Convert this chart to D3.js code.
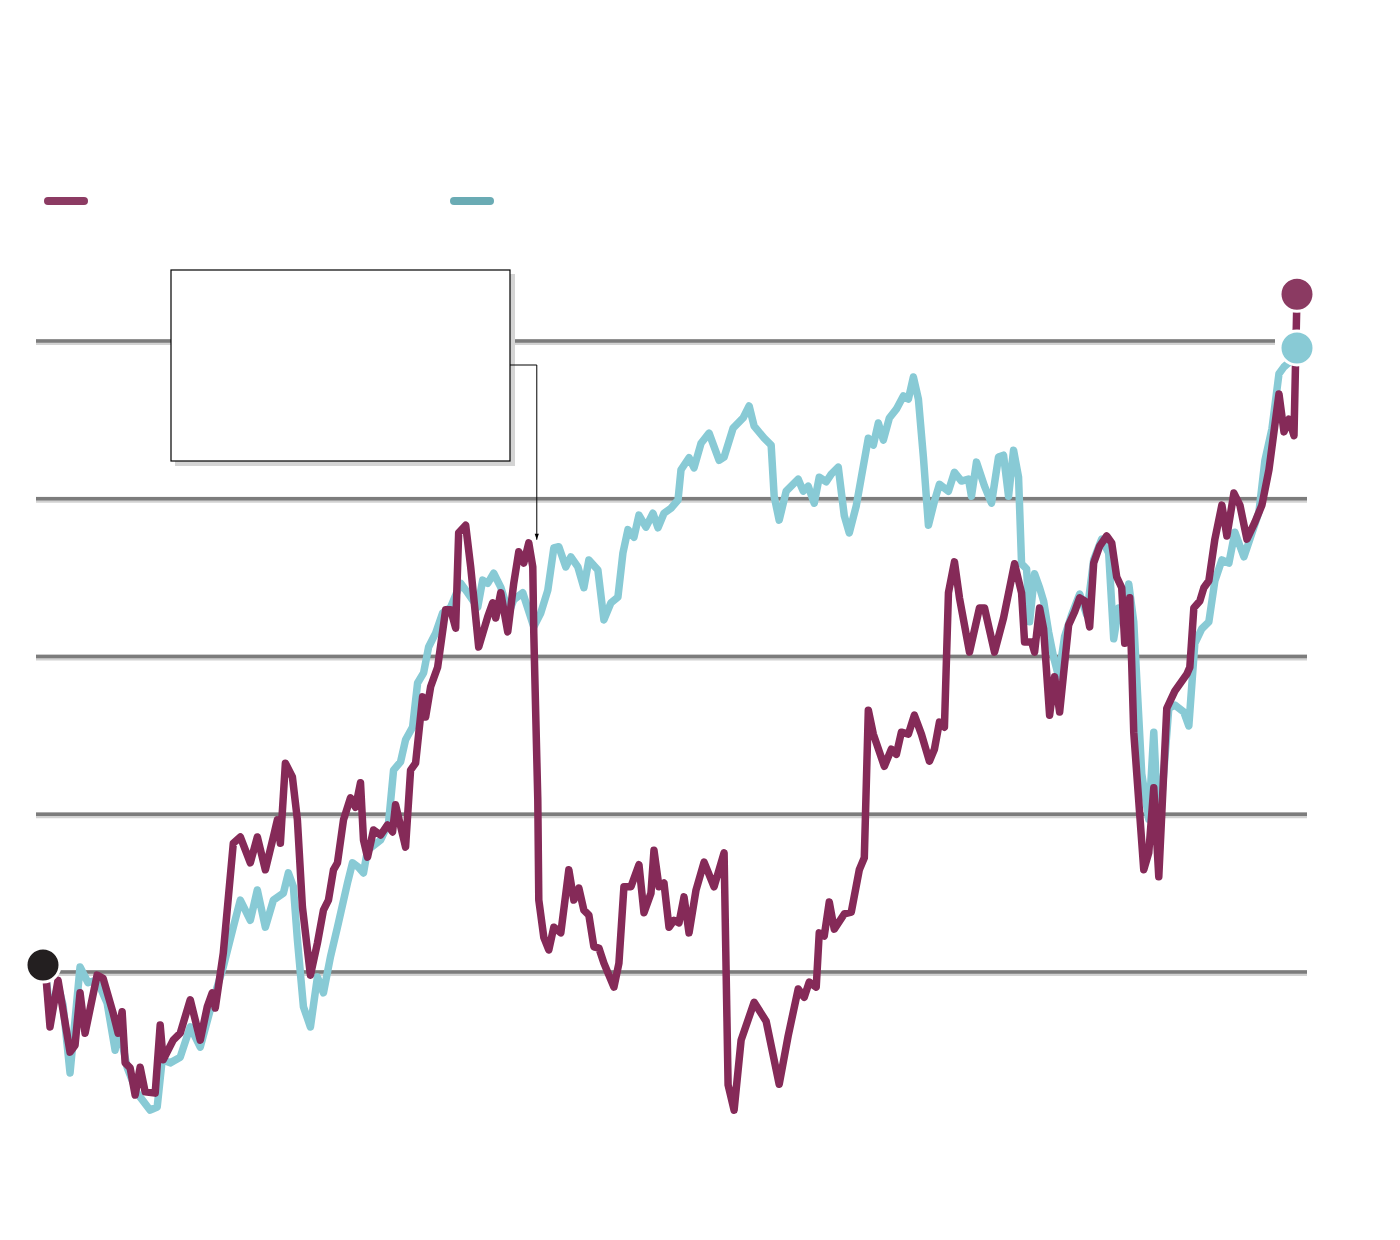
<!DOCTYPE html>
<head>
  <meta charset="utf-8">
  <title>Index comparison</title>
  <script src="https://d3js.org/d3.v7.min.js"></script>
</head>
<style>
body {
    margin: 0;
    background: #fff;
    font-family: "Liberation Sans", Arial, sans-serif;
}
</style>
<body>
<svg id="chart"></svg>
<script>
    // gridline values (index, start = 100)
    var gridValues = [100, 125, 150, 175, 200];

    // purple series: time (units) and index value
    var purpleT = [0, 1, 2.6, 5, 6, 7, 8, 10.4, 11.6, 13.6, 14.6, 15.4, 16, 17, 18, 19, 20, 22, 23, 23.6,
        25.6, 27, 29, 31, 32.4, 33.4, 34, 35.6, 37.6, 39, 41, 42.4, 44, 45.6, 46.4, 47, 48, 49.4, 50.4, 51.4,
        53, 54.4, 55.6, 56.6, 57.6, 58.4, 59.6, 61, 62, 63, 63.6, 64.4, 65.6, 67, 68.4, 69.4, 70, 72, 73, 74,
        75.4, 76, 77, 78.4, 80, 81, 82, 82.6, 84, 85, 86.6, 88.4, 89.4, 90, 91, 92.4, 93.6, 94.6, 95.6, 96.6,
        97.4, 97.6, 98.4, 98.6, 99.6, 100.6, 101.6, 103, 104.6, 105.6, 106.6, 107.6, 108.6, 109.6, 110.6, 111.6, 113.6, 114.6,
        115.6, 117, 118.6, 119.6, 121, 121.6, 122.6, 123.6, 124.6, 125.6, 126.6, 127.6, 128.6, 130, 131.6, 133.6, 135.6, 136.4,
        137.6, 139, 141.6, 144, 146.6, 148.4, 150.4, 151.6, 152.6, 154, 154.6, 155.6, 156.6, 157.6, 159.6, 161, 162.6, 163.6,
        164.4, 165.4, 167.6, 169, 170, 171, 172.4, 173.6, 175, 176.6, 177.6, 178.6, 179.6, 180.4, 181.6, 182.6, 184.6, 186.6,
        187.6, 189.6, 191.4, 193.6, 195, 195.6, 197, 197.6, 198.6, 199.4, 200.6, 201.6, 202.6, 204.4, 205.6, 206.6, 207.6, 208.6,
        209.4, 210.6, 212, 213, 214, 215, 215.6, 216.6, 217.4, 219.4, 220.4, 221.4, 222.4, 224, 225.6, 228, 228.6, 229.4,
        230.6, 231.4, 232.4, 233.6, 235, 236, 237.4, 238.6, 240, 241.6, 243, 244.4, 246.4, 247.4, 248.4, 249.4, 250];
    var purpleV = [101.1, 91.3, 98.7, 87.3, 88.4, 96.7, 90.3, 99.5, 99.0, 93.5, 90.3, 93.7, 85.6, 84.8, 80.5, 84.9, 81.0, 80.8, 91.6, 86.1,
        89.2, 90.3, 95.6, 89.2, 94.5, 96.7, 94.3, 103.0, 120.4, 121.4, 117.3, 121.4, 116.2, 121.4, 124.1, 120.4, 133.1, 130.9, 124.1, 110.3,
        99.5, 104.6, 109.8, 111.4, 116.2, 117.3, 124.1, 127.6, 126.1, 130.0, 120.9, 118.2, 122.5, 121.7, 123.3, 122.2, 126.5, 119.8, 132.0, 133.1,
        143.6, 140.4, 145.2, 148.3, 157.4, 157.4, 154.5, 169.6, 170.8, 164.2, 151.5, 156.3, 158.5, 156.1, 160.1, 153.9, 161.6, 166.6, 164.8, 168.0,
        164.2, 153.7, 127.3, 111.4, 105.5, 103.5, 107.1, 106.2, 116.2, 111.4, 113.3, 109.8, 109.0, 104.0, 103.8, 101.4, 97.6, 101.4,
        113.5, 113.5, 117.0, 109.4, 112.5, 119.3, 113.5, 114.1, 107.1, 108.2, 107.8, 111.9, 106.2, 113.0, 117.4, 113.5, 118.9, 82.1,
        78.1, 89.2, 95.2, 92.2, 82.2, 89.9, 97.3, 96.0, 98.4, 97.6, 106.2, 105.7, 111.1, 106.8, 109.2, 109.5, 116.2, 118.1,
        141.5, 137.7, 132.6, 135.3, 134.5, 138.0, 137.7, 140.7, 137.7, 133.4, 135.3, 139.6, 138.8, 160.1, 165.0, 159.3, 150.7, 157.7,
        157.7, 150.7, 156.1, 164.7, 160.1, 152.3, 152.3, 150.7, 157.7, 154.4, 140.7, 146.8, 141.2, 155.0, 157.1, 159.3, 158.8, 154.7,
        164.8, 167.5, 169.1, 168.0, 162.6, 160.9, 152.1, 159.3, 138.0, 116.2, 118.9, 129.2, 115.1, 141.8, 144.5, 147.2, 148.3, 157.7,
        158.8, 160.9, 162.0, 168.6, 174.0, 169.1, 175.9, 174.0, 168.6, 171.3, 174.0, 179.6, 191.6, 185.6, 187.6, 185.0, 207.4];

    // teal series
    var tealT = [0, 1, 2.6, 3.6, 5, 7, 8.6, 10.4, 12.4, 14, 14.6, 16.4, 18.4, 21, 22.4, 23.4, 25, 27, 29, 31,
        33, 35.6, 37.6, 39, 41, 42.4, 44, 45.6, 47.6, 48.6, 49.6, 50.4, 51.6, 53, 54.4, 55.6, 57, 58.4, 60.4, 61.4,
        62.6, 63.6, 64.4, 67, 68.6, 69.6, 71, 72, 73.4, 74.4, 75.6, 76.6, 78, 79.4, 81, 83, 84.4, 86.4, 87.4, 88.4,
        89.6, 91, 92.6, 93.6, 95.4, 97.6, 99, 100.4, 101.6, 102.6, 104, 105, 106.4, 107.6, 108.6, 110.4, 111.6, 113, 114.4, 115.4,
        116.4, 117.6, 118.6, 120, 121.4, 122.4, 123.6, 125, 126.4, 127, 128.6, 129.6, 131, 132.6, 134.6, 135.6, 137.4, 139.4, 140.6, 141.6,
        143.6, 145, 145.6, 146.6, 148, 150.4, 151.4, 152.4, 153.6, 154.6, 156, 157, 158.4, 159.6, 160.6, 162, 163, 164.4, 165.4, 166.4,
        167.4, 168.6, 170, 171.4, 172.4, 173.4, 174.4, 175.4, 176.4, 177.6, 178.6, 180.4, 181.6, 183, 184.4, 185, 186, 187.6, 189, 190.4,
        191.4, 192.4, 193.4, 194.4, 195, 196, 196.6, 197.6, 198.6, 199.4, 200.4, 201.4, 202.4, 203.6, 205, 206.6, 208, 209.4, 211, 212.4,
        213.4, 214.4, 215.4, 216.4, 217.4, 219, 220.4, 221.4, 222.4, 224.4, 225.6, 227.4, 228.4, 229.6, 231, 232.4, 233.6, 235, 236.4, 237.6,
        239.4, 240.6, 242.4, 243.6, 245, 246.4, 247.4, 249, 250];
    var tealV = [101.1, 93.2, 97.9, 94.8, 84.0, 100.8, 98.3, 98.7, 95.1, 87.6, 91.9, 84.9, 80.8, 78.1, 78.6, 86.1, 85.6, 86.5, 91.3, 88.1,
        94.0, 100.8, 107.1, 111.4, 108.2, 113.0, 107.1, 111.4, 112.5, 115.7, 113.5, 105.1, 94.5, 91.3, 99.2, 96.7, 102.4, 107.1, 114.1, 117.3,
        116.6, 115.7, 119.3, 120.9, 123.6, 132.0, 133.3, 136.8, 138.8, 145.8, 147.4, 151.5, 153.7, 156.9, 157.8, 161.6, 160.1, 157.8, 162.1, 161.6,
        163.2, 161.0, 156.9, 159.0, 160.1, 154.7, 156.9, 160.5, 167.2, 167.4, 164.2, 165.8, 164.2, 160.9, 165.3, 163.7, 155.8, 158.5, 159.4, 166.4,
        170.1, 168.9, 172.4, 170.5, 172.7, 170.4, 172.7, 173.5, 174.8, 179.6, 181.5, 179.9, 183.8, 185.4, 181.1, 181.6, 186.2, 187.8, 189.7, 186.5,
        184.6, 183.5, 175.4, 171.6, 176.2, 178.1, 176.2, 177.0, 174.3, 178.4, 177.7, 178.9, 180.0, 172.3, 169.6, 173.9, 178.4, 184.6, 183.5, 187.0,
        184.3, 187.8, 189.2, 191.3, 190.8, 194.3, 190.8, 181.6, 170.8, 174.6, 177.3, 176.2, 179.2, 177.8, 178.1, 175.4, 180.8, 177.0, 174.3, 181.6,
        181.9, 175.4, 182.7, 178.4, 164.7, 163.9, 155.5, 163.1, 160.9, 158.8, 153.9, 149.9, 146.8, 153.2, 156.6, 159.9, 156.6, 165.3, 168.6, 166.4,
        152.8, 157.7, 155.9, 161.5, 155.5, 131.4, 124.2, 138.0, 121.6, 141.8, 142.3, 141.2, 139.0, 152.1, 154.4, 155.5, 162.0, 165.3, 164.8, 169.7,
        165.8, 168.6, 172.9, 181.1, 186.1, 194.8, 195.9, 197.0, 198.9];

    // annotation target (purple peak before the drop)
    var noteT = 98.2;
    var noteV = 168.5;

    var width = 1400;
    var height = 1240;
    var purple = '#852a58';
    var teal = '#88cad5';

    var svg = d3.select('#chart')
        .attr('width', width)
        .attr('height', height);

    var x = d3.scaleLinear().domain([0, 250]).range([45, 1297]);
    var y = d3.scaleLinear().domain([100, 200]).range([972, 341]);

    // gridlines; the top one stops short of the end markers
    var grid = svg.append('g');
    gridValues.forEach(function (v, i) {
        var x2 = i === gridValues.length - 1 ? 1275 : 1307;
        grid.append('line')
            .attr('x1', 36).attr('x2', x2)
            .attr('y1', y(v) + 1).attr('y2', y(v) + 1)
            .style('stroke', '#d2d2d2').style('stroke-width', 6);
        grid.append('line')
            .attr('x1', 36).attr('x2', x2)
            .attr('y1', y(v)).attr('y2', y(v))
            .style('stroke', '#7c7c7c').style('stroke-width', 3.5);
    });

    // legend swatches
    var legend = svg.append('g');
    [[48, '#8c3b63'], [454, '#6aabb4']].forEach(function (d) {
        legend.append('line')
            .attr('x1', d[0]).attr('x2', d[0] + 36)
            .attr('y1', 201).attr('y2', 201)
            .style('stroke', d[1]).style('stroke-width', 8)
            .style('stroke-linecap', 'round');
    });

    var line = d3.line()
        .x(function (d) { return x(d[0]); })
        .y(function (d) { return y(d[1]); })
        .curve(d3.curveLinear);

    var tealData = d3.zip(tealT, tealV);
    var purpleData = d3.zip(purpleT, purpleV);

    svg.append('path')
        .datum(tealData)
        .attr('d', line)
        .style('fill', 'none')
        .style('stroke', teal)
        .style('stroke-width', 7.5)
        .style('stroke-linejoin', 'round');

    svg.append('path')
        .datum(purpleData)
        .attr('d', line)
        .style('fill', 'none')
        .style('stroke', purple)
        .style('stroke-width', 7.5)
        .style('stroke-linejoin', 'round');

    // annotation box with shadow and arrow
    svg.append('defs').append('marker')
        .attr('id', 'arrow')
        .attr('viewBox', '0 0 10 10')
        .attr('refX', 10).attr('refY', 5)
        .attr('markerWidth', 8).attr('markerHeight', 6)
        .attr('orient', 'auto')
        .append('path')
        .attr('d', 'M0,1.5 L10,5 L0,8.5 Z')
        .style('fill', '#000');

    var note = svg.append('g');
    note.append('rect')
        .attr('x', 175).attr('y', 274)
        .attr('width', 340).attr('height', 192)
        .style('fill', '#d4d4d4');
    note.append('rect')
        .attr('x', 171).attr('y', 270)
        .attr('width', 339).attr('height', 191)
        .style('fill', '#fff')
        .style('stroke', '#000')
        .style('stroke-width', 1.2);
    var ax = x(noteT);
    note.append('path')
        .attr('d', 'M510,365 L' + ax + ',365 L' + ax + ',' + (y(noteV)))
        .style('fill', 'none')
        .style('stroke', '#000')
        .style('stroke-width', 1)
        .attr('marker-end', 'url(#arrow)');

    // start and end markers
    svg.append('circle')
        .attr('cx', x(purpleT[0]) - 2).attr('cy', y(purpleV[0]))
        .attr('r', 17)
        .style('fill', '#231f20')
        .style('stroke', '#fff').style('stroke-width', 3);

    svg.append('circle')
        .attr('cx', x(purpleT[purpleT.length - 1])).attr('cy', y(purpleV[purpleV.length - 1]))
        .attr('r', 17)
        .style('fill', '#8b3a62')
        .style('stroke', '#fff').style('stroke-width', 3);

    svg.append('circle')
        .attr('cx', x(tealT[tealT.length - 1])).attr('cy', y(tealV[tealV.length - 1]))
        .attr('r', 17)
        .style('fill', teal)
        .style('stroke', '#fff').style('stroke-width', 3);
</script>
</body>
